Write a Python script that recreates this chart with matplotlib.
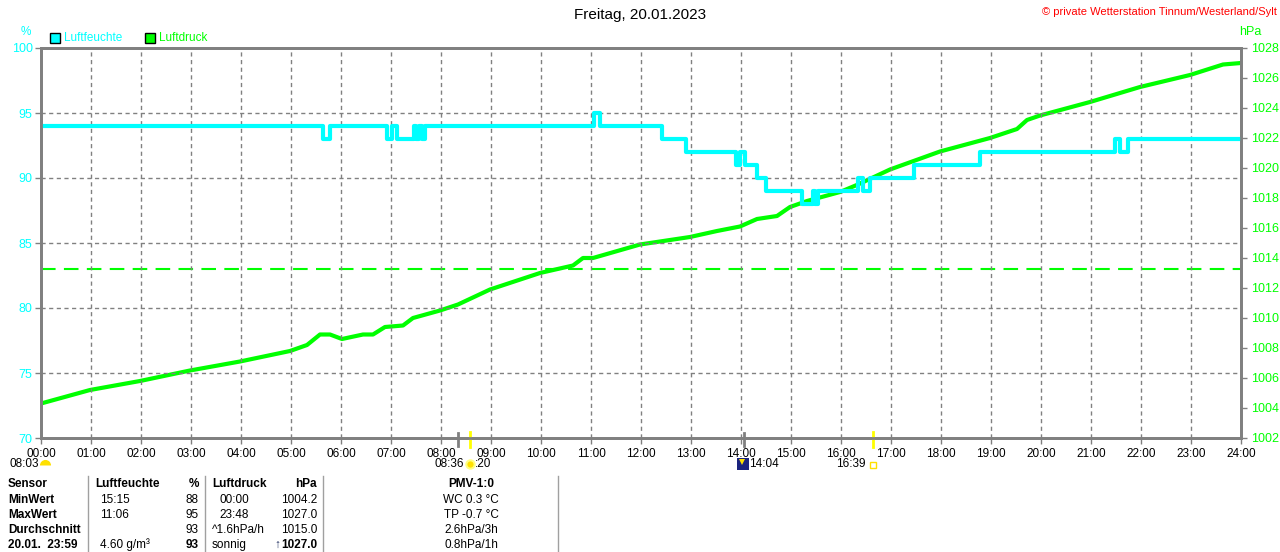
import matplotlib
matplotlib.use('Agg')
import matplotlib.pyplot as plt
from matplotlib.lines import Line2D
import matplotlib.transforms as mtransforms

plt.rcParams['font.family'] = ['Liberation Sans', 'DejaVu Sans']

# --- data (hours since midnight) ---
hum_t = [0.0, 5.64, 5.78, 6.92, 7.02, 7.12, 7.46, 7.50, 7.56, 7.62, 7.68,
         11.06, 11.18, 12.42, 12.90, 13.90, 13.98, 14.08, 14.32, 14.50,
         15.22, 15.44, 15.48, 15.54, 16.34, 16.44, 16.58, 17.46, 18.78,
         21.48, 21.58, 21.74, 24.0]
hum_v = [94, 93, 94, 93, 94, 93, 94, 93, 94, 93, 94,
         95, 94, 93, 92, 91, 92, 91, 90, 89,
         88, 89, 88, 89, 90, 89, 90, 91, 92,
         93, 92, 93, 93]

press_t = [0.0, 0.98, 1.98, 2.98, 3.98, 4.98, 5.32, 5.58, 5.78, 6.02, 6.44,
           6.64, 6.88, 7.24, 7.44, 7.98, 8.34, 8.98, 9.98, 10.64, 10.84,
           11.04, 11.98, 12.98, 13.52, 13.98, 14.32, 14.72, 14.98, 15.32,
           15.98, 16.34, 16.98, 17.98, 18.98, 19.52, 19.72, 19.98, 20.98,
           21.98, 22.98, 23.64, 24.0]
press_v = [1004.3, 1005.2, 1005.8, 1006.5, 1007.1, 1007.8, 1008.2, 1008.9,
           1008.9, 1008.6, 1008.9, 1008.9, 1009.4, 1009.5, 1010.0, 1010.5,
           1010.9, 1011.9, 1013.0, 1013.5, 1014.0, 1014.0, 1014.9, 1015.4,
           1015.8, 1016.1, 1016.6, 1016.8, 1017.4, 1017.8, 1018.4, 1018.9,
           1019.9, 1021.1, 1022.0, 1022.6, 1023.2, 1023.5, 1024.4, 1025.4,
           1026.2, 1026.9, 1027.0]

norm_press = 1013.25
hours = list(range(0, 25))
hour_labels = ['%02d:00' % h for h in hours]
hum_ticks = [70, 75, 80, 85, 90, 95, 100]
press_ticks = list(range(1002, 1029, 2))

# event marks below the axis (hours)
gray_marks = [8.34, 14.05]
yellow_marks = [8.58, 16.64]

# table
tab_rows = ['Sensor', 'MinWert', 'MaxWert', 'Durchschnitt', '20.01.  23:59']
hum_time = ['Luftfeuchte', '15:15', '11:06', '', '4.60 g/m³']
hum_val = ['%', '88', '95', '93', '93']
press_time = ['Luftdruck', '00:00', '23:48', '^1.6hPa/h', 'sonnig']
press_val = ['hPa', '1004.2', '1027.0', '1015.0', '1027.0']
pmv_col = ['PMV-1:0', 'WC 0.3 °C', 'TP -0.7 °C', '2.6hPa/3h', '0.8hPa/1h']

CYAN = '#00ffff'
GREEN = '#00ff00'
GRAY = '#808080'

W, H = 1280, 552


def fx(x):
    return x / W


def fy(y):
    return 1 - y / H


fig = plt.figure(figsize=(12.8, 5.52), dpi=100)
ax = fig.add_axes([fx(41), fy(438), 1200 / W, 390 / H])
ax2 = ax.twinx()
ax.set_zorder(ax2.get_zorder() + 1)
ax.patch.set_visible(False)

# pressure
ax2.plot(press_t, press_v, color=GREEN, lw=3.0)
ax2.axhline(norm_press, color=GREEN, lw=1.5, dashes=[7, 4])
ax2.set_ylim(1002, 1028)
ax2.set_yticks(press_ticks)
ax2.tick_params(axis='y', colors=GRAY, labelcolor=GREEN, labelsize=9, length=4, width=1)

# humidity
ax.step(hum_t, hum_v, where='post', color=CYAN, lw=3)
ax.set_xlim(0, 24)
ax.set_ylim(70, 100)
ax.set_yticks(hum_ticks)
ax.set_xticks(hours)
ax.set_xticklabels(hour_labels)
ax.tick_params(axis='y', colors=GRAY, labelcolor=CYAN, labelsize=9, length=4, width=1, pad=2)
ax.tick_params(axis='x', colors=GRAY, labelcolor='black', labelsize=8.5, length=4, width=1, pad=3)
ax.grid(True, color=GRAY, lw=1, linestyle=(0, (3, 2.5)))

for a in (ax, ax2):
    for s in a.spines.values():
        s.set_color(GRAY)
        s.set_linewidth(2)

# marks crossing the bottom axis
trans = mtransforms.blended_transform_factory(ax.transData, ax.transAxes)
for h in gray_marks:
    ax.plot([h, h], [0.013, -0.02], color=GRAY, lw=2, transform=trans, clip_on=False)
for h in yellow_marks:
    ax.plot([h, h], [0.015, -0.023], color='#ffff00', lw=2, transform=trans, clip_on=False)

# header texts
fig.text(0.5, fy(15), 'Freitag, 20.01.2023', ha='center', va='center', fontsize=11)
fig.text(fx(1277), fy(12), '© private Wetterstation Tinnum/Westerland/Sylt', ha='right',
         va='center', fontsize=8, color='red')
fig.text(fx(26), fy(32), '%', ha='center', va='center', fontsize=8.5, color=CYAN)
fig.text(fx(1250), fy(32), 'hPa', ha='center', va='center', fontsize=9, color=GREEN)

# legend
for sx, col, label in [(55, CYAN, 'Luftfeuchte'), (150, GREEN, 'Luftdruck')]:
    fig.add_artist(Line2D([fx(sx)], [fy(38)], marker='s', markersize=7, markerfacecolor=col,
                          markeredgecolor='black', markeredgewidth=1, transform=fig.transFigure))
    fig.text(fx(sx + 9), fy(38), label, ha='left', va='center', fontsize=8.5, color=col)

# sun info below the axis
fig.text(fx(10), fy(464), '08:03', ha='left', va='center', fontsize=8.5)
fig.add_artist(Line2D([fx(45)], [fy(465)], marker='o', markersize=8, fillstyle='top',
                      markerfacecolor='#ffe000', markerfacecoloralt='none', markeredgewidth=0,
                      transform=fig.transFigure))
fig.text(fx(464), fy(464), '08:36', ha='right', va='center', fontsize=8.5)
fig.add_artist(Line2D([fx(470)], [fy(464)], marker='o', markersize=6, markerfacecolor='#ffe000',
                      markeredgecolor='#ffff80', markeredgewidth=1.5, transform=fig.transFigure))
fig.text(fx(475), fy(464), ':20', ha='left', va='center', fontsize=8.5)
fig.add_artist(Line2D([fx(743)], [fy(464)], marker='s', markersize=8, markerfacecolor='#1a237e',
                      markeredgewidth=0, transform=fig.transFigure))
fig.add_artist(Line2D([fx(742)], [fy(462)], marker='v', markersize=4, markerfacecolor='#ffe000',
                      markeredgewidth=0, transform=fig.transFigure))
fig.text(fx(749), fy(464), '14:04', ha='left', va='center', fontsize=8.5)
fig.text(fx(866), fy(464), '16:39', ha='right', va='center', fontsize=8.5)
fig.add_artist(Line2D([fx(873)], [fy(465)], marker='s', markersize=4, markerfacecolor='none',
                      markeredgecolor='#ffe000', markeredgewidth=1, transform=fig.transFigure))

# table separators
for sx in [88, 205, 323, 558]:
    fig.add_artist(Line2D([fx(sx), fx(sx)], [fy(476), fy(552)], color='#a0a0a0', lw=1,
                          transform=fig.transFigure))

row_y = [484, 500, 515, 530, 545]
for i, y in enumerate(row_y):
    head = (i == 0)
    fig.text(fx(8), fy(y), tab_rows[i], ha='left', va='center', fontsize=8.5, weight='bold')
    fig.text(fx(95 if head else 100), fy(y), hum_time[i], ha='left', va='center', fontsize=8.5,
             weight='bold' if head else 'normal')
    fig.text(fx(199), fy(y), hum_val[i], ha='right', va='center', fontsize=8.5,
             weight='bold' if head or i == 4 else 'normal')
    fig.text(fx(212 if head or i >= 3 else 219), fy(y), press_time[i], ha='left', va='center',
             fontsize=8.5, weight='bold' if head else 'normal')
    fig.text(fx(317), fy(y), press_val[i], ha='right', va='center', fontsize=8.5,
             weight='bold' if head or i == 4 else 'normal')
    fig.text(fx(471), fy(y), pmv_col[i], ha='center', va='center', fontsize=8.5,
             weight='bold' if head else 'normal')

fig.text(fx(280), fy(545), '↑', ha='right', va='center', fontsize=8.5, weight='bold', color='#203060')

fig.savefig('out.png', dpi=100)
